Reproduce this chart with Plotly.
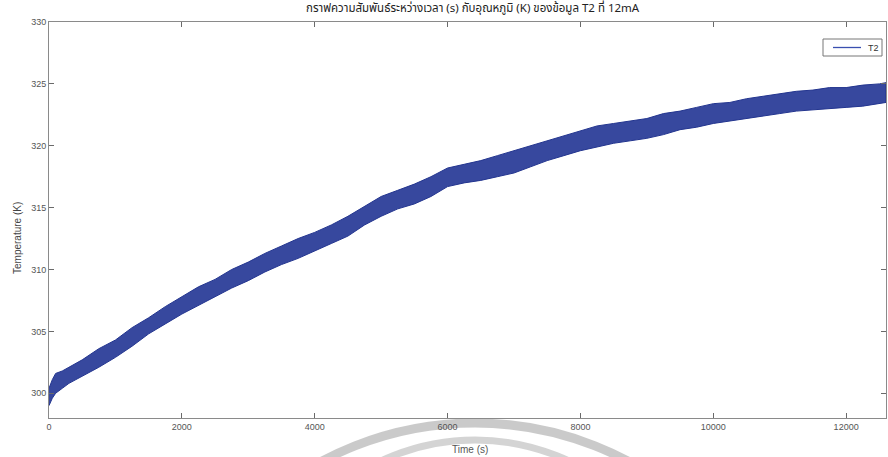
import plotly.graph_objects as go

# ---- data ----
time_s = [0, 50, 100, 200, 300, 500, 750, 1000, 1250, 1500, 1750, 2000,
          2250, 2500, 2750, 3000, 3250, 3500, 3750, 4000, 4250, 4500, 4750,
          5000, 5250, 5500, 5750, 6000, 6250, 6500, 6750, 7000, 7250, 7500,
          7750, 8000, 8250, 8500, 8750, 9000, 9250, 9500, 9750, 10000, 10250,
          10500, 10750, 11000, 11250, 11500, 11750, 12000, 12250, 12500, 12600]

temp_upper = [300.4, 301.1, 301.6, 301.8, 302.1, 302.7, 303.6, 304.3, 305.3, 306.1,
              307.0, 307.8, 308.6, 309.2, 310.0, 310.6, 311.3, 311.9, 312.5, 313.0,
              313.6, 314.3, 315.1, 315.9, 316.4, 316.9, 317.5, 318.2, 318.5, 318.8,
              319.2, 319.6, 320.0, 320.4, 320.8, 321.2, 321.6, 321.8, 322.0, 322.2,
              322.6, 322.8, 323.1, 323.4, 323.5, 323.8, 324.0, 324.2, 324.4, 324.5,
              324.7, 324.7, 324.9, 325.0, 325.1]

temp_lower = [299.0, 299.6, 300.0, 300.4, 300.8, 301.4, 302.1, 302.9, 303.8, 304.8,
              305.6, 306.4, 307.1, 307.8, 308.5, 309.1, 309.8, 310.4, 310.9, 311.5,
              312.1, 312.7, 313.6, 314.3, 314.9, 315.3, 315.9, 316.7, 317.0, 317.2,
              317.5, 317.8, 318.3, 318.8, 319.2, 319.6, 319.9, 320.2, 320.4, 320.6,
              320.9, 321.3, 321.5, 321.8, 322.0, 322.2, 322.4, 322.6, 322.8, 322.9,
              323.0, 323.1, 323.2, 323.4, 323.5]

x_ticks = [0, 2000, 4000, 6000, 8000, 10000, 12000]
y_ticks = [300, 305, 310, 315, 320, 325, 330]

series_name = "T2"
title_text = "กราฟความสัมพันธ์ระหว่างเวลา (s) กับอุณหภูมิ (K) ของข้อมูล T2 ที่ 12mA"

W, H = 888, 457
L, R, T, B = 49, 2, 22, 39
pw, ph = W - L - R, H - T - B

def px(xp):
    return (xp - L) / pw

def py(yp):
    return (H - B - yp) / ph

band_color = "#23358f"
fig = go.Figure()
fig.add_trace(go.Scatter(
    x=time_s + time_s[::-1],
    y=temp_upper + temp_lower[::-1],
    fill="toself", fillcolor="rgba(38,56,150,0.92)",
    line=dict(color=band_color, width=1),
    mode="lines", name=series_name, showlegend=False, hoverinfo="skip"))

axis_common = dict(showgrid=False, zeroline=False, showline=True, linecolor="#8a8a8a",
                   linewidth=1, mirror="ticks", ticks="inside", ticklen=5,
                   tickcolor="#6a6a6a",
                   tickfont=dict(family="Liberation Sans Narrow, Liberation Sans, Arial",
                                 size=9, color="#555555"))

fig.update_xaxes(range=[0, 12600], tickvals=x_ticks,
                 ticktext=[str(v) for v in x_ticks], **axis_common)
fig.update_yaxes(range=[298, 330], tickvals=y_ticks,
                 ticktext=[str(v) for v in y_ticks], **axis_common)

fig.update_layout(
    width=W, height=H,
    margin=dict(l=L, r=R, t=T, b=B),
    paper_bgcolor="white", plot_bgcolor="white",
    showlegend=False,
    annotations=[
        dict(text=title_text, xref="paper", yref="paper", x=px(473), y=py(8),
             xanchor="center", yanchor="middle", showarrow=False,
             font=dict(family="Noto Sans Thai, Loma, Garuda, Noto Sans, Liberation Sans",
                       size=11.5, color="#222222")),
        dict(text="Temperature (K)", xref="paper", yref="paper", x=px(18), y=py(238),
             xanchor="center", yanchor="middle", showarrow=False, textangle=-90,
             font=dict(family="Liberation Sans, Arial", size=10, color="#444444")),
        dict(text="Time (s)", xref="paper", yref="paper", x=px(470), y=py(449),
             xanchor="center", yanchor="middle", showarrow=False,
             font=dict(family="Liberation Sans Narrow, Liberation Sans, Arial",
                       size=10, color="#555555")),
        # legend label
        dict(text=series_name, xref="paper", yref="paper", x=px(866), y=py(47.5),
             xanchor="left", yanchor="middle", showarrow=False,
             font=dict(family="Liberation Sans, Arial", size=9, color="#333333")),
    ],
    shapes=[
        dict(type="circle", xref="paper", yref="paper", layer="below",
             x0=px(475 - 326), x1=px(475 + 326), y0=py(749 + 326), y1=py(749 - 326),
             line=dict(color="rgba(150,150,150,0.5)", width=9)),
        dict(type="circle", xref="paper", yref="paper", layer="below",
             x0=px(475 - 221), x1=px(475 + 221), y0=py(661 + 221), y1=py(661 - 221),
             line=dict(color="rgba(160,160,160,0.45)", width=7)),
        # legend box and sample line
        dict(type="rect", xref="paper", yref="paper", layer="above",
             x0=px(823), x1=px(882), y0=py(56), y1=py(39),
             fillcolor="white", line=dict(color="#777777", width=1)),
        dict(type="line", xref="paper", yref="paper", layer="above",
             x0=px(833), x1=px(861), y0=py(47.5), y1=py(47.5),
             line=dict(color="#3a4fb0", width=1.3)),
    ],
)

fig.write_html("out.html")
